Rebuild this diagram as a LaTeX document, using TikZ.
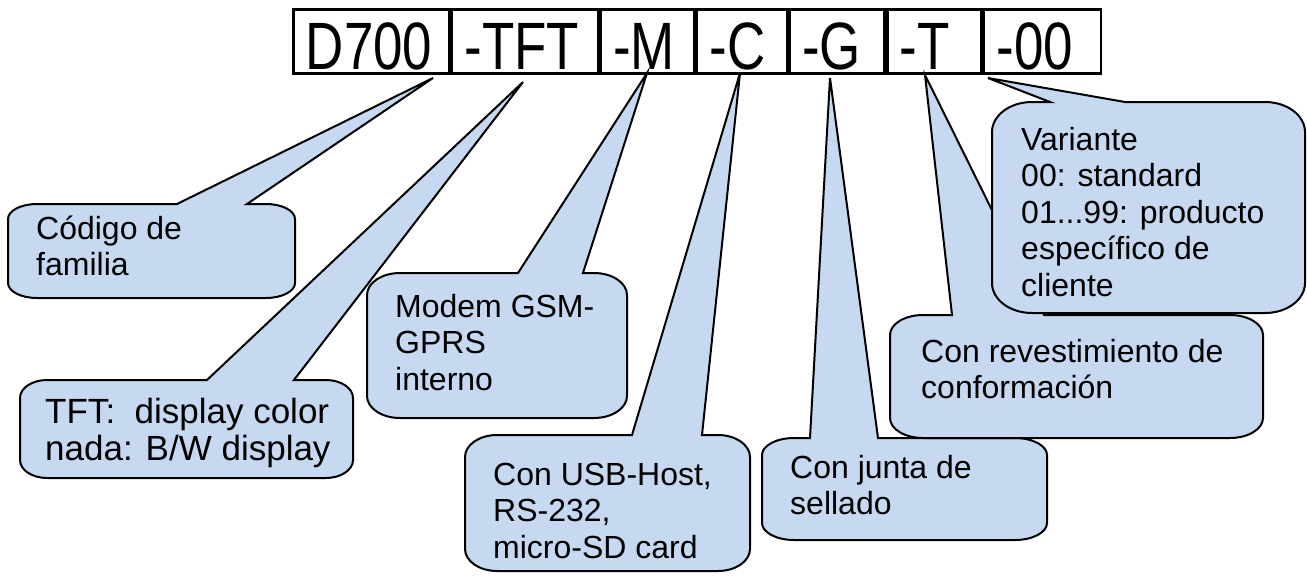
\documentclass[tikz,border=0pt]{standalone}
\usepackage{fontspec}
\usepackage{graphicx}
\setmainfont{Liberation Sans}
\usetikzlibrary{calc}
\definecolor{bubblefill}{RGB}{198,217,241}

% label inside one cell of the part-number strip (narrowed glyphs)
\newcommand\partlabel[2]{\makebox[#1pt][l]{\hspace{12.5pt}\scalebox{0.79}[1]{#2}}}
% left-aligned block of lines whose baseline is the first line
\newcommand\textlines[1]{\begin{tabular}[t]{@{}l@{}}#1\end{tabular}}
% rounded speech box with its wedge on the top edge:
% #1,#2 top-left  #3,#4 bottom-right  #5,#6 corner radii  #7,#8 wedge base  #9 wedge tip
\newcommand\speechbox[9]{%
  \pgfmathsetmacro\sbxa{#1+#5}%
  \pgfmathsetmacro\sbxb{#3-#5}%
  \pgfmathsetmacro\sbya{#2+#6}%
  \pgfmathsetmacro\sbyb{#4-#6}%
  \pgfmathsetmacro\sbkx{0.5523*#5}%
  \pgfmathsetmacro\sbky{0.5523*#6}%
  \draw[bubble] (\sbxa,#2) -- (#7,#2) -- (#9) -- (#8,#2) -- (\sbxb,#2)
    .. controls (\sbxb+\sbkx,#2) and (#3,\sbya-\sbky) .. (#3,\sbya)
    -- (#3,\sbyb)
    .. controls (#3,\sbyb+\sbky) and (\sbxb+\sbkx,#4) .. (\sbxb,#4)
    -- (\sbxa,#4)
    .. controls (\sbxa-\sbkx,#4) and (#1,\sbyb+\sbky) .. (#1,\sbyb)
    -- (#1,\sbya)
    .. controls (#1,\sbya-\sbky) and (\sbxa-\sbkx,#2) .. cycle;}

\begin{document}
\begin{tikzpicture}[x=1pt,y=-1pt,
  cell/.style={draw, line width=2.6pt, minimum height=64pt, inner xsep=0pt,
    inner ysep=0pt, text height=56pt, text depth=0pt, anchor=north west,
    font=\fontsize{67}{67}\selectfont},
  bubble/.style={draw, line width=2pt, fill=bubblefill, line join=miter},
  note/.style={anchor=base west, inner sep=0pt, font=\fontsize{32}{36.5}\selectfont},
  bignote/.style={note, font=\fontsize{35}{37}\selectfont}]
\useasboundingbox (0,0) rectangle (1307,576);

% part-number strip
\node[cell] (c1) at (292,8) {\partlabel{156}{D700}};
\node[cell] (c2) at (c1.north east) {\partlabel{146}{-TFT}};
\node[cell] (c3) at (c2.north east) {\partlabel{94}{-M}};
\node[cell] (c4) at (c3.north east) {\partlabel{90}{-C}};
\node[cell] (c5) at (c4.north east) {\partlabel{95}{-G}};
\node[cell] (c6) at (c5.north east) {\partlabel{94}{-T}};
\node[cell] (c7) at (c6.north east) {\partlabel{117}{-00}};

% points the wedges reach
\coordinate (tipA) at (433,78);
\coordinate (tipB) at (523,82);
\coordinate (tipC) at (647,73);
\coordinate (tipD) at (740,73);
\coordinate (tipE) at (830,78);
\coordinate (tipF) at (925,75);
\coordinate (tipG) at (988,78);

% speech boxes
\speechbox{8}{204}{295}{298}{29}{15}{177}{247}{tipA}
\speechbox{20}{380}{353}{478}{27}{18}{207}{294}{tipB}
\speechbox{367}{273}{627}{418}{33}{22}{518}{583}{tipC}
\speechbox{465}{435}{750}{571}{32}{22}{632}{702}{tipD}
\speechbox{762}{438}{1047}{540}{32}{17}{810}{878}{tipE}
\speechbox{890}{315}{1263}{438}{33}{20}{952}{1044}{tipF}
\speechbox{992}{102}{1305}{313}{40}{30}{1050}{1125}{tipG}

% texts
\node[note] (t1) at (36,239) {\textlines{Código de\\familia}};
\node[bignote] (t2) at (45,423) {\textlines{TFT:\ \ display color\\nada: B/W display}};
\node[note] (t3) at (395,317) {\textlines{Modem GSM-\\GPRS\\interno}};
\node[note] (t4) at (493,485) {\textlines{Con USB-Host,\\RS-232,\\micro-SD card}};
\node[note] (t5) at (790,478) {\textlines{Con junta de\\sellado}};
\node[note] (t6) at (921,362) {\textlines{Con revestimiento de\\conformación}};
\node[note] (t7) at (1021,150) {\textlines{Variante\\00: standard\\01...99: producto\\específico de\\cliente}};
\end{tikzpicture}
\end{document}
